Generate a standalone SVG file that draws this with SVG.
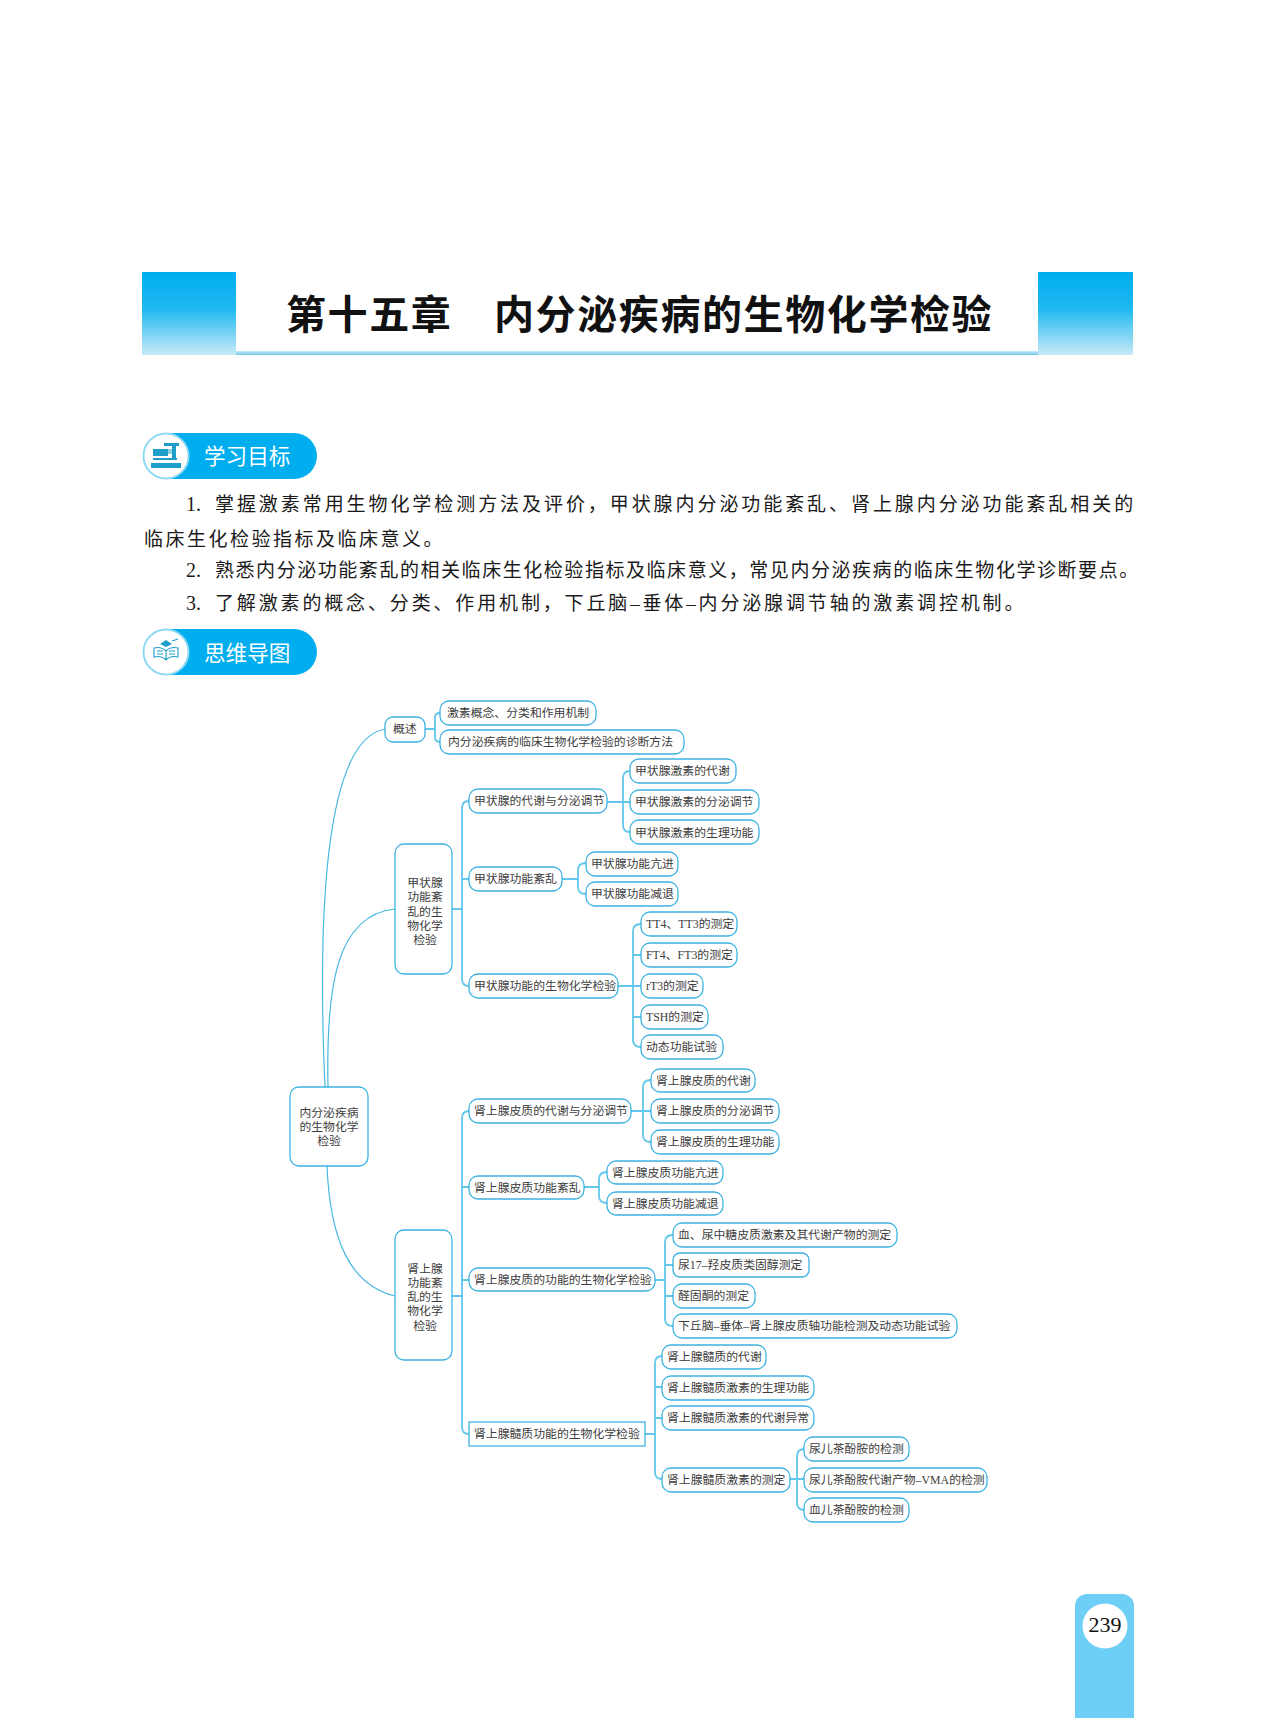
<svg xmlns="http://www.w3.org/2000/svg" width="1275" height="1718" viewBox="0 0 1275 1718">
<style>
text{font-family:"Liberation Serif","Noto Sans CJK SC",sans-serif}
.b{font-size:19px;fill:#1a1a1a}
.num{font-size:20px}
.bd{font-family:"Noto Sans CJK SC",sans-serif;font-size:21.6px;fill:#fff}
.t{font-size:11.85px;fill:#3c3c3c}
.m{text-anchor:middle}
.n{fill:#fff;stroke:#3db3e2;stroke-width:1.3}
.c{fill:none;stroke:#62c7ea;stroke-width:1.8}
.r{fill:none;stroke:#47b8e2;stroke-width:1.2}
.ic{fill:#1d9fc9}
.il{fill:none;stroke:#1d9fc9;stroke-width:1.1}
</style>
<defs>
<linearGradient id="hg" x1="0" y1="0" x2="0" y2="1"><stop offset="0" stop-color="#00aeef"/><stop offset="0.45" stop-color="#20b9f0"/><stop offset="1" stop-color="#c8eaf8"/></linearGradient>
<linearGradient id="hl" x1="0" y1="0" x2="0" y2="1"><stop offset="0" stop-color="#c8eaf8"/><stop offset="1" stop-color="#6fc8e8"/></linearGradient>
</defs>
<rect width="1275" height="1718" fill="#fff"/>
<g id="header">
<rect x="142" y="272" width="94" height="83" fill="url(#hg)"/>
<rect x="1038" y="272" width="95" height="83" fill="url(#hg)"/>
<rect x="236" y="351" width="802" height="4" fill="url(#hl)"/>
<text x="286" y="329" font-size="40" font-weight="700" letter-spacing="1.6" fill="#111" style="font-family:'Noto Sans CJK SC',sans-serif">第十五章　内分泌疾病的生物化学检验</text>
</g>
<g id="badge-goals">
<rect x="143" y="433" width="174" height="46" rx="23" fill="#00aeef"/>
<circle cx="166" cy="456" r="22.5" fill="#fff" stroke="#8fd9f3" stroke-width="2"/>
<rect class="ic" x="153" y="449" width="15" height="7"/>
<rect class="ic" x="164" y="443" width="15" height="3"/>
<rect class="ic" x="172" y="446" width="4" height="12"/>
<rect class="ic" x="165" y="449" width="8" height="5" fill-opacity="0.5"/>
<rect class="ic" x="153" y="458" width="24" height="2"/>
<rect class="ic" x="151" y="463" width="30" height="5"/>
<text class="bd" x="204" y="464">学习目标</text>
</g>
<g id="badge-mindmap">
<rect x="143" y="629" width="174" height="46" rx="23" fill="#00aeef"/>
<circle cx="166" cy="652" r="22.5" fill="#fff" stroke="#8fd9f3" stroke-width="2"/>
<path class="ic" d="M160 644l6-4 6 4-6 3z"/>
<path class="il" d="M166 660c-3-3-8-4-12-3v-9c4-1 9 0 12 3 3-3 8-4 12-3v9c-4-1-9 0-12 3zM166 651v9M157 651h6M157 654h6M169 651h6M169 654h6M172 641l6-2"/>
<text class="bd" x="204" y="661">思维导图</text>
</g>
<g id="objectives">
<text class="b" y="511"><tspan class="num" x="186">1.</tspan><tspan x="215" letter-spacing="2.93">掌握激素常用生物化学检测方法及评价，甲状腺内分泌功能紊乱、肾上腺内分泌功能紊乱相关的</tspan></text>
<text class="b" x="144" y="546" letter-spacing="2.5">临床生化检验指标及临床意义。</text>
<text class="b" y="577"><tspan class="num" x="186">2.</tspan><tspan x="215" letter-spacing="1.55">熟悉内分泌功能紊乱的相关临床生化检验指标及临床意义，常见内分泌疾病的临床生物化学诊断要点。</tspan></text>
<text class="b" y="610"><tspan class="num" x="186">3.</tspan><tspan x="215" letter-spacing="2.85">了解激素的概念、分类、作用机制，下丘脑–垂体–内分泌腺调节轴的激素调控机制。</tspan></text>
</g>
<g id="connectors">
<path class="r" d="M325 1087C318 930 322 740 385 729"/>
<path class="r" d="M328 1087C326 990 335 915 395 909"/>
<path class="r" d="M327 1166C330 1240 350 1285 395 1296"/>
<path class="c" d="M425 729H435M440 713Q435 713 435 718V737Q435 742 440 742"/>
<path class="c" d="M452 909H462M469 801Q462 801 462 808V979Q462 986 469 986M462 879H469"/>
<path class="c" d="M607 802H630M630 771Q623 771 623 778V825Q623 832 630 832"/>
<path class="c" d="M562 879H578M586 863Q578 863 578 870V887Q578 894 586 894"/>
<path class="c" d="M618 986H641M641 924Q633 924 633 931V1040Q633 1047 641 1047M633 955H641M633 1017H641"/>
<path class="c" d="M452 1296H462M469 1111Q462 1111 462 1118V1427Q462 1434 469 1434M462 1187H469M462 1280H469"/>
<path class="c" d="M631 1111H651M651 1080Q643 1080 643 1087V1135Q643 1142 651 1142"/>
<path class="c" d="M584 1187H599M607 1172Q599 1172 599 1179V1196Q599 1203 607 1203"/>
<path class="c" d="M655 1280H665M673 1235Q665 1235 665 1242V1319Q665 1326 673 1326M665 1265H673M665 1296H673"/>
<path class="c" d="M645 1434H655M662 1356Q655 1356 655 1363V1472Q655 1479 662 1479M655 1387H662M655 1418H662"/>
<path class="c" d="M790 1479H805M805 1449Q797 1449 797 1456V1503Q797 1510 805 1510"/>
</g>
<g id="n-root"><rect class="n" x="290" y="1087" width="78" height="79" rx="9"/><text class="t m" x="329" y="1117">内分泌疾病</text><text class="t m" x="329" y="1131">的生物化学</text><text class="t m" x="329" y="1145">检验</text></g>
<g id="n-overview"><rect class="n" x="385" y="717" width="40" height="25" rx="8"/><text class="t" x="393" y="733">概述</text></g>
<g id="n-o1"><rect class="n" x="440" y="701" width="156" height="24" rx="9"/><text class="t" x="447" y="717">激素概念、分类和作用机制</text></g>
<g id="n-o2"><rect class="n" x="440" y="730" width="244" height="24" rx="9"/><text class="t" x="448" y="746">内分泌疾病的临床生物化学检验的诊断方法</text></g>
<g id="n-thyroid"><rect class="n" x="395" y="844" width="57" height="130" rx="9"/><text class="t m" x="425" y="887">甲状腺</text><text class="t m" x="425" y="901">功能紊</text><text class="t m" x="425" y="916">乱的生</text><text class="t m" x="425" y="930">物化学</text><text class="t m" x="425" y="944">检验</text></g>
<g id="n-t1"><rect class="n" x="469" y="789" width="138" height="24" rx="9"/><text class="t" x="474" y="805">甲状腺的代谢与分泌调节</text></g>
<g id="n-t1a"><rect class="n" x="630" y="759" width="106" height="24" rx="9"/><text class="t" x="635" y="775">甲状腺激素的代谢</text></g>
<g id="n-t1b"><rect class="n" x="630" y="790" width="129" height="24" rx="9"/><text class="t" x="635" y="806">甲状腺激素的分泌调节</text></g>
<g id="n-t1c"><rect class="n" x="630" y="820" width="129" height="24" rx="9"/><text class="t" x="635" y="837">甲状腺激素的生理功能</text></g>
<g id="n-t2"><rect class="n" x="469" y="867" width="93" height="24" rx="9"/><text class="t" x="474" y="883">甲状腺功能紊乱</text></g>
<g id="n-t2a"><rect class="n" x="586" y="852" width="92" height="24" rx="9"/><text class="t" x="591" y="868">甲状腺功能亢进</text></g>
<g id="n-t2b"><rect class="n" x="586" y="882" width="92" height="24" rx="9"/><text class="t" x="591" y="898">甲状腺功能减退</text></g>
<g id="n-t3"><rect class="n" x="469" y="974" width="149" height="24" rx="9"/><text class="t" x="474" y="990">甲状腺功能的生物化学检验</text></g>
<g id="n-t3a"><rect class="n" x="641" y="912" width="96" height="24" rx="9"/><text class="t" x="646" y="928">TT4、TT3的测定</text></g>
<g id="n-t3b"><rect class="n" x="641" y="943" width="96" height="24" rx="9"/><text class="t" x="646" y="959">FT4、FT3的测定</text></g>
<g id="n-t3c"><rect class="n" x="641" y="974" width="62" height="24" rx="9"/><text class="t" x="646" y="990">rT3的测定</text></g>
<g id="n-t3d"><rect class="n" x="641" y="1005" width="67" height="24" rx="9"/><text class="t" x="646" y="1021">TSH的测定</text></g>
<g id="n-t3e"><rect class="n" x="641" y="1035" width="82" height="24" rx="9"/><text class="t" x="646" y="1051">动态功能试验</text></g>
<g id="n-adrenal"><rect class="n" x="395" y="1230" width="57" height="130" rx="9"/><text class="t m" x="425" y="1273">肾上腺</text><text class="t m" x="425" y="1287">功能紊</text><text class="t m" x="425" y="1301">乱的生</text><text class="t m" x="425" y="1315">物化学</text><text class="t m" x="425" y="1330">检验</text></g>
<g id="n-a1"><rect class="n" x="469" y="1099" width="162" height="24" rx="9"/><text class="t" x="474" y="1115">肾上腺皮质的代谢与分泌调节</text></g>
<g id="n-a1a"><rect class="n" x="651" y="1069" width="104" height="23" rx="9"/><text class="t" x="656" y="1085">肾上腺皮质的代谢</text></g>
<g id="n-a1b"><rect class="n" x="651" y="1099" width="128" height="24" rx="9"/><text class="t" x="656" y="1115">肾上腺皮质的分泌调节</text></g>
<g id="n-a1c"><rect class="n" x="651" y="1130" width="128" height="24" rx="9"/><text class="t" x="656" y="1146">肾上腺皮质的生理功能</text></g>
<g id="n-a2"><rect class="n" x="469" y="1176" width="115" height="23" rx="9"/><text class="t" x="474" y="1192">肾上腺皮质功能紊乱</text></g>
<g id="n-a2a"><rect class="n" x="607" y="1161" width="116" height="23" rx="9"/><text class="t" x="612" y="1177">肾上腺皮质功能亢进</text></g>
<g id="n-a2b"><rect class="n" x="607" y="1192" width="116" height="23" rx="9"/><text class="t" x="612" y="1208">肾上腺皮质功能减退</text></g>
<g id="n-a3"><rect class="n" x="469" y="1268" width="186" height="23" rx="9"/><text class="t" x="474" y="1284">肾上腺皮质的功能的生物化学检验</text></g>
<g id="n-a3a"><rect class="n" x="673" y="1223" width="224" height="24" rx="9"/><text class="t" x="678" y="1239">血、尿中糖皮质激素及其代谢产物的测定</text></g>
<g id="n-a3b"><rect class="n" x="673" y="1253" width="136" height="24" rx="7"/><text class="t" x="678" y="1269">尿17–羟皮质类固醇测定</text></g>
<g id="n-a3c"><rect class="n" x="673" y="1284" width="82" height="24" rx="9"/><text class="t" x="678" y="1300">醛固酮的测定</text></g>
<g id="n-a3d"><rect class="n" x="673" y="1314" width="284" height="24" rx="9"/><text class="t" x="678" y="1330">下丘脑–垂体–肾上腺皮质轴功能检测及动态功能试验</text></g>
<g id="n-a4"><rect x="469" y="1422" width="176" height="24" fill="#fff" stroke="#3db3e2" stroke-width="1.3"/><text class="t" x="474" y="1438">肾上腺髓质功能的生物化学检验</text></g>
<g id="n-a4a"><rect class="n" x="662" y="1345" width="104" height="24" rx="9"/><text class="t" x="667" y="1361">肾上腺髓质的代谢</text></g>
<g id="n-a4b"><rect class="n" x="662" y="1376" width="152" height="24" rx="9"/><text class="t" x="667" y="1392">肾上腺髓质激素的生理功能</text></g>
<g id="n-a4c"><rect class="n" x="662" y="1406" width="152" height="24" rx="9"/><text class="t" x="667" y="1422">肾上腺髓质激素的代谢异常</text></g>
<g id="n-a4d"><rect class="n" x="662" y="1468" width="128" height="24" rx="9"/><text class="t" x="667" y="1484">肾上腺髓质激素的测定</text></g>
<g id="n-a4d1"><rect class="n" x="804" y="1437" width="105" height="24" rx="9"/><text class="t" x="809" y="1453">尿儿茶酚胺的检测</text></g>
<g id="n-a4d2"><rect class="n" x="804" y="1468" width="183" height="24" rx="9"/><text class="t" x="809" y="1484">尿儿茶酚胺代谢产物–VMA的检测</text></g>
<g id="n-a4d3"><rect class="n" x="804" y="1498" width="105" height="24" rx="9"/><text class="t" x="809" y="1514">血儿茶酚胺的检测</text></g>
<g id="page-tab">
<path d="M1075 1718V1606a12 12 0 0 1 12-12h35a12 12 0 0 1 12 12V1718z" fill="#6dcff6"/>
<circle cx="1105" cy="1626" r="22.5" fill="#fff"/>
<text x="1105" y="1632" font-size="22" text-anchor="middle" fill="#111">239</text>
</g>
</svg>
